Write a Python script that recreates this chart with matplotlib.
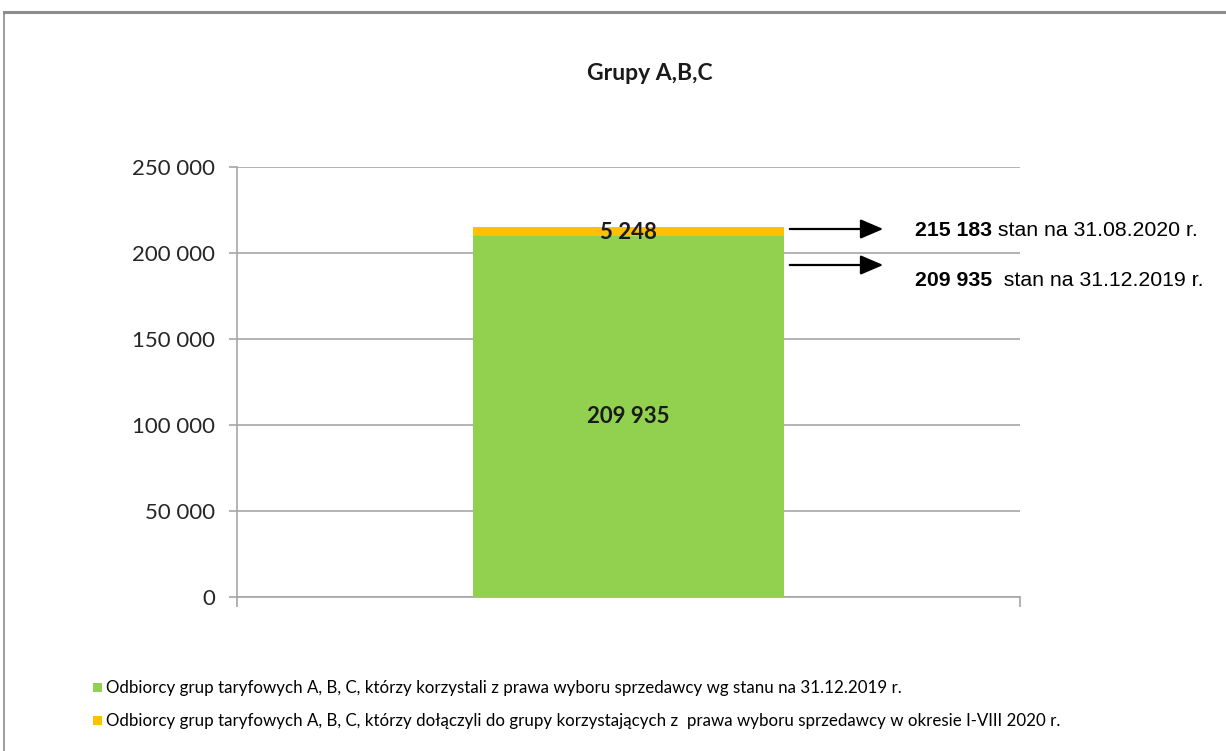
import matplotlib
matplotlib.use("Agg")
import matplotlib.pyplot as plt
from matplotlib.lines import Line2D

# Data
categories = ["Grupy A,B,C"]
base_values = [209935]
added_values = [5248]
base_label = "Odbiorcy grup taryfowych A, B, C, którzy korzystali z prawa wyboru sprzedawcy wg stanu na 31.12.2019 r."
added_label = "Odbiorcy grup taryfowych A, B, C, którzy dołączyli do grupy korzystających z  prawa wyboru sprzedawcy w okresie I-VIII 2020 r."
base_text = ["209 935"]
added_text = ["5 248"]
yticks = [0, 50000, 100000, 150000, 200000, 250000]
ytick_labels = ["0", "50 000", "100 000", "150 000", "200 000", "250 000"]
note_top = ("215 183", " stan na 31.08.2020 r.")
note_base = ("209 935", "  stan na 31.12.2019 r.")

GREEN = "#92D050"
YELLOW = "#FFC000"
GRID = "#A6A6A6"
FONT = "Lato"

W, H = 1226, 751
fig = plt.figure(figsize=(W / 100, H / 100), dpi=100)
fig.patch.set_facecolor("white")

# outer border (top and left visible)
fig.add_artist(Line2D([4 / W, 1.01], [1 - 12 / H, 1 - 12 / H], transform=fig.transFigure,
                      color="#8C8C8C", lw=2.2))
fig.add_artist(Line2D([4 / W, 4 / W], [1 - 12 / H, -0.01], transform=fig.transFigure,
                      color="#8C8C8C", lw=1.2))

ax = fig.add_axes([237 / W, 1 - 597 / H, (1020 - 237) / W, (597 - 167) / H])
x = list(range(len(categories)))
b1 = ax.bar(x, base_values, width=0.396, color=GREEN, zorder=3, label=base_label)
b2 = ax.bar(x, added_values, bottom=base_values, width=0.396, color=YELLOW, zorder=3,
            label=added_label)
ax.set_xlim(-0.5, 0.5)
ax.set_ylim(0, 250000)
ax.set_yticks(yticks)
ax.set_yticklabels(ytick_labels, fontfamily=FONT, fontsize=16, color="#262626")
ax.set_xticks([-0.5, 0.5])
ax.set_xticklabels(["", ""])
ax.tick_params(axis="y", length=6, width=1.2, color=GRID, pad=10)
ax.tick_params(axis="x", length=7, width=1.2, color=GRID)
ax.grid(axis="y", color=GRID, lw=1.2, zorder=0)
for s in ["top", "right"]:
    ax.spines[s].set_visible(False)
for s in ["left", "bottom"]:
    ax.spines[s].set_color(GRID)
    ax.spines[s].set_linewidth(1.2)

# bar value labels
for xi, bv, av, bt, at in zip(x, base_values, added_values, base_text, added_text):
    ax.text(xi, bv / 2, bt, ha="center", va="center", fontfamily=FONT,
            fontweight="bold", fontsize=16, color="#1a1a1a", zorder=4)
    ax.text(xi, bv + av / 2 - 800, at, ha="center", va="center", fontfamily=FONT,
            fontweight="bold", fontsize=16, color="#1a1a1a", zorder=4)

fig.text(650 / W, 1 - 73 / H, categories[0], fontfamily=FONT, fontweight="bold",
         fontsize=16.5, color="#1a1a1a", ha="center", va="center")

# arrows and notes
arrow_y = [1 - 229 / H, 1 - 265 / H]
for ay in arrow_y:
    fig.add_artist(matplotlib.patches.FancyArrowPatch(
        (787 / W, ay), (886 / W, ay), transform=fig.transFigure,
        arrowstyle="-|>,head_length=14,head_width=6", mutation_scale=1,
        color="black", lw=1.6))

def note(y, bold, rest):
    t = fig.text(915 / W, y, bold, fontfamily="Liberation Sans", fontweight="bold",
                 fontsize=15.3, va="center", ha="left")
    fig.canvas.draw()
    bb = t.get_window_extent()
    fig.text(bb.x1 / W, y, rest, fontfamily="Liberation Sans", fontsize=15.3,
             va="center", ha="left")

note(1 - 230 / H, note_top[0], note_top[1])
note(1 - 280 / H, note_base[0], note_base[1])

# legend
fig.legend(handles=[b1, b2], loc="upper left", bbox_to_anchor=(85 / W, 1 - 672 / H),
           frameon=False, prop={"family": FONT, "size": 12.2}, handlelength=0.5,
           handleheight=0.5, handletextpad=0.25, labelspacing=1.0, borderpad=0)

fig.savefig("out.png", dpi=100, facecolor="white")
